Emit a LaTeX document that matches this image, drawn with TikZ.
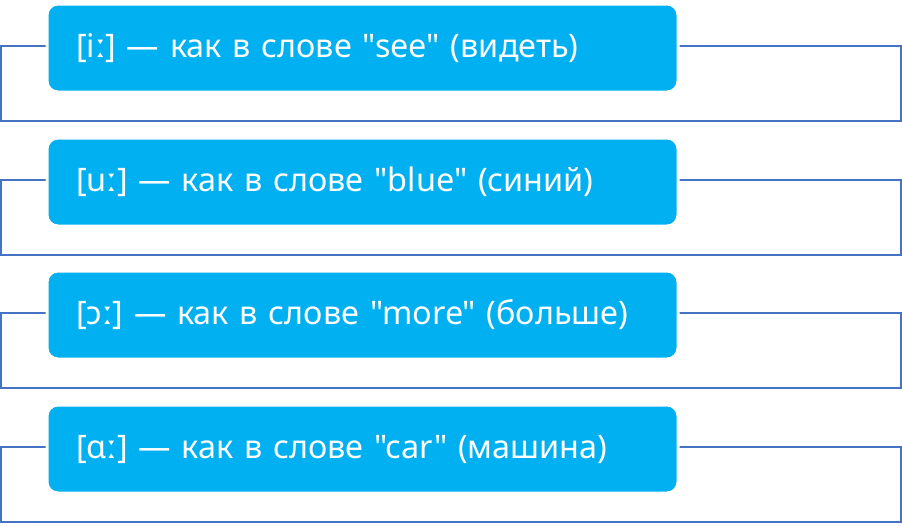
\documentclass[tikz,border=0pt]{standalone}
\usepackage{fontspec}
\setmainfont{Noto Sans}[Ligatures = TeXOff]
\definecolor{boxblue}{HTML}{00B0F0}
\definecolor{frameblue}{HTML}{4472C4}
\tikzset{
  sound/.style = {anchor = north west, fill = boxblue, draw = white, line width = 3pt,
    rounded corners = 11pt, minimum width = 631pt, minimum height = 88pt,
    text width = 573pt, inner xsep = 29pt, align = left, text = white,
    font = \fontsize{32.4}{37}\selectfont},
  frame/.style = {draw = frameblue, line width = 2pt}
}
\begin{document}
\begin{tikzpicture}[x = 1pt, y = -1pt]
				\useasboundingbox (0, 0) rectangle (902, 525);
				\draw[frame] (1, 46) rectangle (901, 121);
				\draw[frame] (1, 180) rectangle (901, 255);
				\draw[frame] (1, 313) rectangle (901, 388);
				\draw[frame] (1, 447) rectangle (901, 522);
				\node[sound] (iz) at (45.5, 2.5) {[iː] — как в слове "see" (видеть)};
				\node[sound] (uz) at (45.5, 136.5) {[uː] — как в слове "blue" (синий)};
				\node[sound] (oz) at (45.5, 269.5) {[ɔː] — как в слове "more" (больше)};
				\node[sound] (az) at (45.5, 403.5) {[ɑː] — как в слове "car" (машина)};
			\end{tikzpicture}
\end{document}
